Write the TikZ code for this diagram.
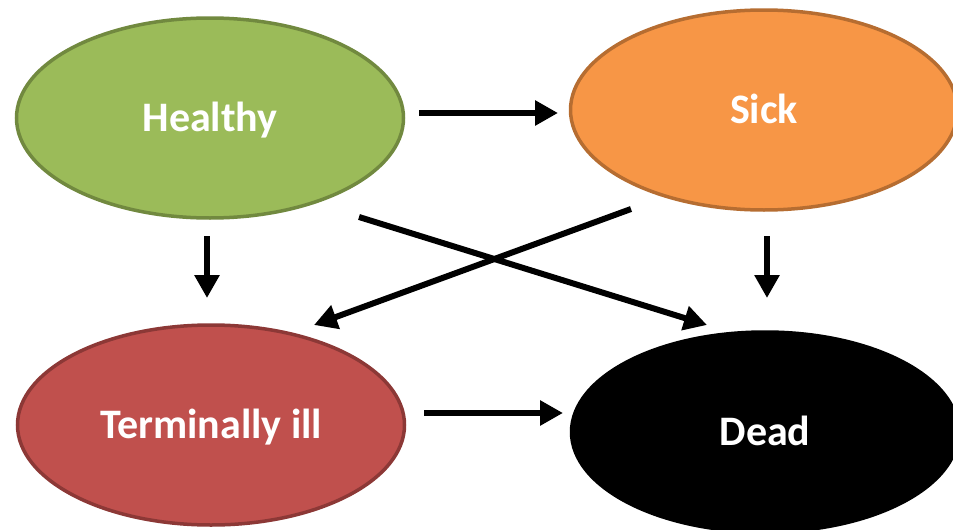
\documentclass[tikz,border=0pt]{standalone}
\usepackage{fontspec}
\setmainfont{Carlito}
\usetikzlibrary{shapes.geometric,arrows.meta}
\definecolor{hfill}{HTML}{9BBB59}
\definecolor{hdraw}{HTML}{71893F}
\definecolor{sfill}{HTML}{F79646}
\definecolor{sdraw}{HTML}{B66D31}
\definecolor{tfill}{HTML}{C0504D}
\definecolor{tdraw}{HTML}{8C3836}
\tikzset{
  state/.style={ellipse, line width=3.5pt, minimum width=387pt, minimum height=200pt,
    inner sep=0pt, text=white, font=\fontsize{42}{48}\selectfont\bfseries,
    text height=27pt, text depth=0pt},
  flow/.style={line width=6pt, -{Triangle[length=23pt,width=24pt]}}
}
\begin{document}
\begin{tikzpicture}[x=1pt,y=-1pt]
\useasboundingbox (0,0) rectangle (953,530);
\clip (0,0) rectangle (953,530);
\node[state, fill=hfill, draw=hdraw] (h) at (210,118) {Healthy};
\node[state, fill=sfill, draw=sdraw] (s) at (764,110) {Sick};
\node[state, fill=tfill, draw=tdraw] (t) at (211,425) {Terminally ill};
\node[state, fill=black, draw=black] (d) at (765,432) {Dead};
\coordinate (hs1) at (419,113); \coordinate (hs2) at (558,113);
\coordinate (ht1) at (207,236); \coordinate (ht2) at (207,298);
\coordinate (sd1) at (767,236); \coordinate (sd2) at (767,298);
\coordinate (hd1) at (359,217); \coordinate (hd2) at (707,325);
\coordinate (st1) at (631,209); \coordinate (st2) at (314,325);
\coordinate (td1) at (424,413); \coordinate (td2) at (563,413);
\draw[flow] (hs1) -- (hs2);
\draw[flow] (ht1) -- (ht2);
\draw[flow] (sd1) -- (sd2);
\draw[flow] (hd1) -- (hd2);
\draw[flow] (st1) -- (st2);
\draw[flow] (td1) -- (td2);
\end{tikzpicture}
\end{document}
